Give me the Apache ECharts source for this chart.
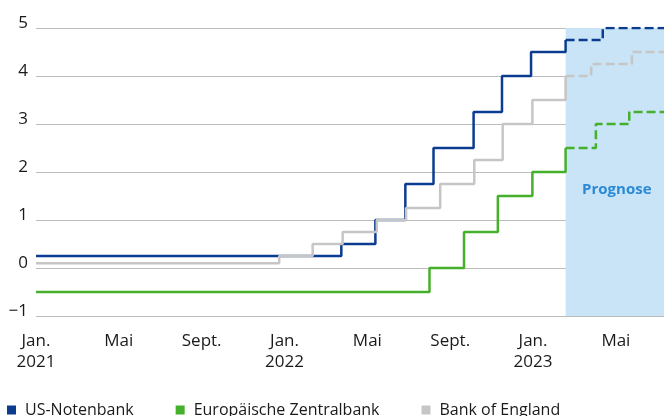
<!DOCTYPE html>
<html>
<head>
<meta charset="utf-8">
<script src="https://cdn.jsdelivr.net/npm/echarts@6/dist/echarts.min.js"></script>
<style>
  html, body { margin: 0; padding: 0; background: #fff; }
  #chart { width: 664px; height: 416px; }
</style>
</head>
<body>
<div id="chart"></div>
<script>
"use strict"

// each date = day the new rate applies (step)
const axisStart = "2021-01-01";
const axisEnd = "2023-07-11";
const forecastStart = "2023-02-17";

const usDates = ["2021-01-01", "2022-03-24", "2022-05-13", "2022-06-26", "2022-08-07", "2022-10-05", "2022-11-16", "2022-12-29", "2023-02-17"];
const usRates = [0.25, 0.5, 1.0, 1.75, 2.5, 3.25, 4.0, 4.5, 4.75];
const usForecastDates = ["2023-02-17", "2023-04-12", "2023-07-11"];
const usForecastRates = [4.75, 5.0, 5.0];

const ecbDates = ["2021-01-01", "2022-08-01", "2022-09-21", "2022-11-10", "2022-12-31", "2023-02-17"];
const ecbRates = [-0.5, 0, 0.75, 1.5, 2.0, 2.5];
const ecbForecastDates = ["2023-02-17", "2023-04-02", "2023-05-21", "2023-07-11"];
const ecbForecastRates = [2.5, 3.0, 3.25, 3.25];

const boeDates = ["2021-01-01", "2021-12-24", "2022-02-11", "2022-03-26", "2022-05-15", "2022-06-27", "2022-08-17", "2022-10-06", "2022-11-17", "2022-12-31", "2023-02-17"];
const boeRates = [0.1, 0.25, 0.5, 0.75, 1.0, 1.25, 1.75, 2.25, 3.0, 3.5, 4.0];
const boeForecastDates = ["2023-02-17", "2023-03-26", "2023-05-25", "2023-07-11"];
const boeForecastRates = [4.0, 4.25, 4.5, 4.5];

// x tick every 4 months from Jan. 2021
const xTickLabels = ["Jan.\n2021", "Mai", "Sept.", "Jan.\n2022", "Mai", "Sept.", "Jan.\n2023", "Mai"];

const names = ["US-Notenbank", "Europäische Zentralbank", "Bank of England"];
const colors = ["#0b3c8f", "#45b02b", "#c6c6c6"];

const font = "'Open Sans', 'Noto Sans', sans-serif";

// months since Jan 2021, fractional by day
const toMonths = (d) => {
  const [y, m, day] = d.split("-").map(Number);
  const daysInMonth = new Date(y, m, 0).getDate();
  return (y - 2021) * 12 + (m - 1) + (day - 1) / daysInMonth;
};

const toPoints = (dates, rates) => dates.map((d, i) => [toMonths(d), rates[i]]);

const stepSeries = (name, color, dates, rates, dashed) => ({
  name: name,
  type: "line",
  step: "end",
  symbol: "none",
  silent: true,
  z: 2,
  lineStyle: { color: color, width: 2.5, type: dashed ? [9, 4] : "solid" },
  itemStyle: { color: color },
  data: toPoints(dates, rates)
});

const chart = echarts.init(document.getElementById("chart"));

chart.setOption({
  animation: false,
  grid: { left: 36, right: 0, top: 28, bottom: 100, containLabel: false },
  xAxis: {
    type: "value",
    min: toMonths(axisStart),
    max: toMonths(axisEnd),
    interval: 4,
    axisLine: { show: false },
    axisTick: { show: false },
    splitLine: { show: false },
    axisLabel: {
      showMaxLabel: false,
      margin: 15,
      fontSize: 17,
      lineHeight: 21,
      color: "#1a1a1a",
      fontFamily: font,
      formatter: (v) => {
        const i = Math.round(v / 4);
        return Math.abs(v - i * 4) < 1e-6 && xTickLabels[i] ? xTickLabels[i] : "";
      }
    }
  },
  yAxis: {
    type: "value",
    min: -1,
    max: 5,
    interval: 1,
    axisLine: { show: false },
    axisTick: { show: false },
    splitLine: { lineStyle: { color: "#bcbcbc", width: 1 } },
    axisLabel: {
      margin: 8,
      fontSize: 17,
      color: "#1a1a1a",
      fontFamily: font,
      verticalAlign: "bottom",
      lineHeight: 9,
      formatter: (v) => (v < 0 ? "\u2212" + Math.abs(v) : String(v))
    }
  },
  legend: {
    left: 7,
    top: 402,
    padding: 0,
    itemWidth: 9,
    itemHeight: 9,
    itemGap: 42,
    selectedMode: false,
    textStyle: { fontSize: 16, color: "#1a1a1a", fontFamily: font, padding: [0, 0, 0, 4] },
    data: names.map((n, i) => ({ name: n, icon: "rect", itemStyle: { color: colors[i] } }))
  },
  series: [
    {
      type: "line",
      data: [],
      silent: true,
      z: -1,
      markArea: {
        silent: true,
        itemStyle: { color: "#c8e4f6" },
        label: {
          show: true,
          position: "inside",
          offset: [2, 18],
          color: "#2b8ad6",
          fontWeight: "bold",
          fontSize: 15,
          fontFamily: font
        },
        data: [[{ name: "Prognose", xAxis: toMonths(forecastStart) }, { xAxis: toMonths(axisEnd) }]]
      }
    },
    stepSeries(names[0], colors[0], usDates, usRates, false),
    stepSeries(names[0], colors[0], usForecastDates, usForecastRates, true),
    stepSeries(names[1], colors[1], ecbDates, ecbRates, false),
    stepSeries(names[1], colors[1], ecbForecastDates, ecbForecastRates, true),
    stepSeries(names[2], colors[2], boeDates, boeRates, false),
    stepSeries(names[2], colors[2], boeForecastDates, boeForecastRates, true)
  ]
});
</script>
</body>
</html>
